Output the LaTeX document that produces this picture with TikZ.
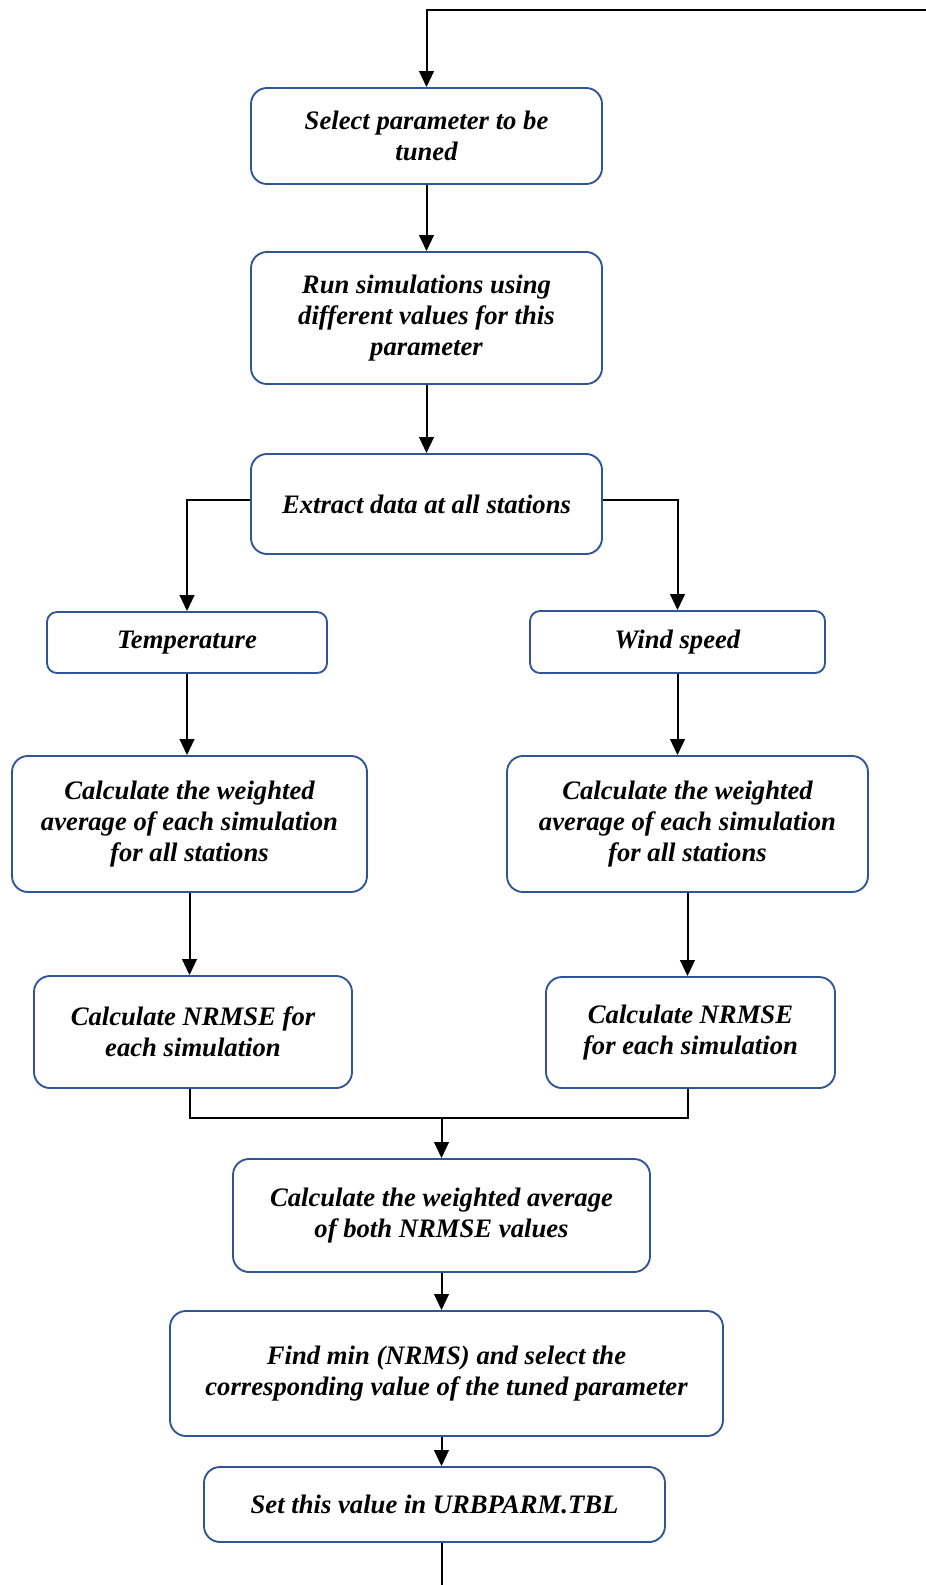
\documentclass[tikz,border=0pt]{standalone}
\usepackage{fontspec}
\setmainfont{Liberation Serif}
\usetikzlibrary{positioning, arrows.meta}
\definecolor{boxblue}{RGB}{47,85,151}
\tikzset{
	every text node part/.style= {
		align=center
	},
	stage/.style= {
		rectangle,
		rounded corners=12pt,
		draw=boxblue,
		line width=1.4pt,
		inner sep=0pt,
		font=\fontsize{20}{23.4}\selectfont\bfseries\itshape
	},
	link/.style= {
		black,
		line width=1.5pt,
		-{Triangle[length=12pt,width=11pt]}
	},
	plain/.style= {
		black,
		line width=1.5pt
	}
}

\begin{document}
\begin{tikzpicture}[x=0.75pt, y=-0.75pt]
		\useasboundingbox (0,0) rectangle (925,1585);
		
		\node (select)[stage, minimum width=263.25pt, minimum height=72pt] at (426.5,136) {Select parameter to be\\tuned};
		\node (run)[stage, minimum width=263.25pt, minimum height=99pt] at (426.5,318) {Run simulations using\\different values for this\\parameter};
		\node (extract)[stage, minimum width=263.25pt, minimum height=75pt] at (426.5,504) {Extract data at all stations};
		
		\node (temp)[stage, rounded corners=7.5pt, minimum width=210pt, minimum height=45.75pt] at (187,642.5) {Temperature};
		\node (wind)[stage, rounded corners=7.5pt, minimum width=221.25pt, minimum height=46.5pt] at (677.5,642) {Wind speed};
		
		\node (calcL)[stage, minimum width=266.25pt, minimum height=102pt] at (189.5,824) {Calculate the weighted\\average of each simulation\\for all stations};
		\node (calcR)[stage, minimum width=270.75pt, minimum height=102pt] at (687.5,824) {Calculate the weighted\\average of each simulation\\for all stations};
		
		\node (nrmseL)[stage, minimum width=238.5pt, minimum height=84pt] at (193,1032) {Calculate NRMSE for\\each simulation};
		\node (nrmseR)[stage, minimum width=216.75pt, minimum height=83.25pt] at (690.5,1032.5) {Calculate NRMSE\\for each simulation};
		
		\node (both)[stage, minimum width=312.75pt, minimum height=84.75pt] at (441.5,1215.5) {Calculate the weighted average\\of both NRMSE values};
		\node (findmin)[stage, minimum width=414.75pt, minimum height=93.75pt] at (446.5,1373.5) {Find min (NRMS) and select the\\corresponding value of the tuned parameter};
		\node (setval)[stage, minimum width=345.75pt, minimum height=56.25pt] at (434.5,1504.5) {Set this value in URBPARM.TBL};
		
		% loop back from the right edge and out at the bottom
		\coordinate (loopR) at (935,10);
		\coordinate (loopB) at (441.5,1595);
		\coordinate (join) at (441.5,1118);
		
		\draw[link] (loopR) -| (select.north);
		\draw[link] (select) to (run);
		\draw[link] (run) to (extract);
		\draw[link] ([yshift=3pt]extract.west) -| (temp.north);
		\draw[link] ([yshift=3pt]extract.east) -| (wind.north);
		\draw[link] (temp) to (temp |- calcL.north);
		\draw[link] (wind) to (wind |- calcR.north);
		\draw[link] (calcL) to (calcL |- nrmseL.north);
		\draw[link] (calcR) to (calcR |- nrmseR.north);
		\draw[plain] (calcL |- nrmseL.south) |- (join) -| (calcR |- nrmseR.south);
		\draw[link] (join) to (both);
		\draw[link] (both) to (both |- findmin.north);
		\draw[link] (both |- findmin.south) to (both |- setval.north);
		\draw[plain] (both |- setval.south) to (loopB);
	\end{tikzpicture}
\end{document}
